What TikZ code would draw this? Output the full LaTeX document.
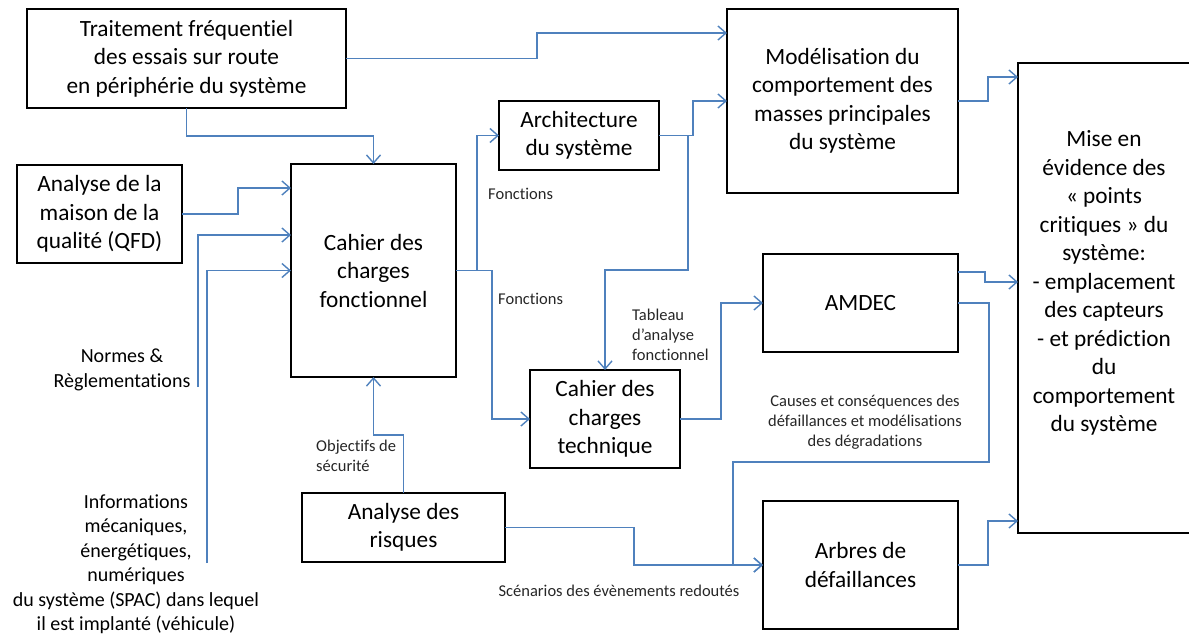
\documentclass[tikz,border=0pt]{standalone}
\usepackage{fontspec}
\setmainfont{Carlito}[RawFeature={-liga}]
\usetikzlibrary{arrows.meta}
\definecolor{linkblue}{RGB}{79,129,189}
\begin{document}
\begin{tikzpicture}[x=1pt,y=-1pt,
  blk/.style={draw=black, line width=1.7pt, fill=white, inner sep=0pt, outer sep=0pt, align=center, font=\fontsize{23.3}{28.5}\selectfont},
  conn/.style={draw=linkblue, line width=1.6pt, -{Straight Barb[length=8pt,width=14pt,line width=1.4pt]}},
  lbl/.style={font=\fontsize{16.5}{20}\selectfont, text=black!85, inner sep=0pt, align=left},
  side/.style={font=\fontsize{20}{24.5}\selectfont, inner sep=0pt, align=center}]
\useasboundingbox (0,0) rectangle (1189,635);
% boxes
\node[blk, minimum width=319, minimum height=99] (trait) at (186.5,58.5) {Traitement fréquentiel\\des essais sur route\\en périphérie du système};
\node[blk, minimum width=165, minimum height=98] (qfd) at (99.5,214) {Analyse de la\\maison de la\\qualité (QFD)};
\node[blk, minimum width=165, minimum height=213] (cdcf) at (373.5,270.5) {Cahier des\\charges\\fonctionnel};
\node[blk, minimum width=160, minimum height=69] (arch) at (579,135.5) {Architecture\\du système};
\node[blk, minimum width=231, minimum height=184] (mod) at (842.5,101) {Modélisation du\\comportement des\\masses principales\\du système};
\node[blk, minimum width=195, minimum height=98] (amdec) at (860.5,303) {AMDEC};
\node[blk, minimum width=150, minimum height=98] (cdct) at (605,419) {Cahier des\\charges\\technique};
\node[blk, minimum width=203, minimum height=69] (risk) at (403.5,527.5) {Analyse des\\risques};
\node[blk, minimum width=195, minimum height=128] (arbres) at (860.5,565) {Arbres de\\défaillances};
\node[blk, minimum width=172.5, minimum height=470] (mise) at (1104.25,298) {};
\node[font=\fontsize{23.3}{28.5}\selectfont, align=center, inner sep=0pt] (misetxt) at (1104,283) {Mise en\\évidence des\\« points\\critiques » du\\système:\\- emplacement\\des capteurs\\- et prédiction\\du\\comportement\\du système};
% labels
\node[lbl, anchor=west] (f1) at (488,194) {Fonctions};
\node[lbl, anchor=west] (f2) at (498,299) {Fonctions};
\node[lbl, anchor=west] (tab) at (632,335) {Tableau\\d’analyse\\fonctionnel};
\node[lbl, anchor=west] (obj) at (316,456) {Objectifs de\\sécurité};
\node[lbl, align=center] (caus) at (865,422) {Causes et conséquences des\\défaillances et modélisations\\des dégradations};
\node[lbl] (scen) at (619,591) {Scénarios des évènements redoutés};
\node[side] (norm) at (122,370) {Normes \&\\Règlementations};
\node[side] (info) at (136,564) {Informations\\mécaniques,\\énergétiques,\\numériques\\du système (SPAC) dans lequel\\il est implanté (véhicule)};
% connectors
\coordinate (nrmend) at (198,387);
\coordinate (infend) at (207,563);
\coordinate (archj) at (688,135.5);
\draw[conn] (trait.east) -| (537,33) -- (mod.west |- 0,33);
\draw[conn] (trait.south) -- (186.5,136) -| (cdcf.north);
\draw[conn] (qfd.east) -| (238,188) -- (cdcf.west |- 0,188);
\draw[conn] (nrmend) |- (cdcf.west |- 0,235);
\draw[conn] (infend) |- (cdcf.west);
\draw[conn] (cdcf.east) -- (477,270.5) |- (arch.west);
\draw[conn] (cdcf.east) -- (492,270.5) |- (cdct.west);
\draw[conn] (arch.east) -- (693,135.5) |- (mod.west);
\draw[conn] (archj) -- (688,270) -| (cdct.north);
\draw[conn] (cdct.east) -- (721,419) |- (amdec.west);
\draw[conn] (risk.north) -- (403.5,435) -| (cdcf.south);
\draw[conn] (risk.east) -| (634,565) -- (arbres.west);
\draw[conn] (amdec.east) -| (989,462) -| (733,565) -- (arbres.west);
\draw[conn] (mod.east) -| (988,77) -- (mise.west |- 0,77);
\draw[conn] (amdec.east |- 0,272) -| (985,282) -- (mise.west |- 0,282);
\draw[conn] (arbres.east) -| (988,521) -- (mise.west |- 0,521);
\end{tikzpicture}
\end{document}
